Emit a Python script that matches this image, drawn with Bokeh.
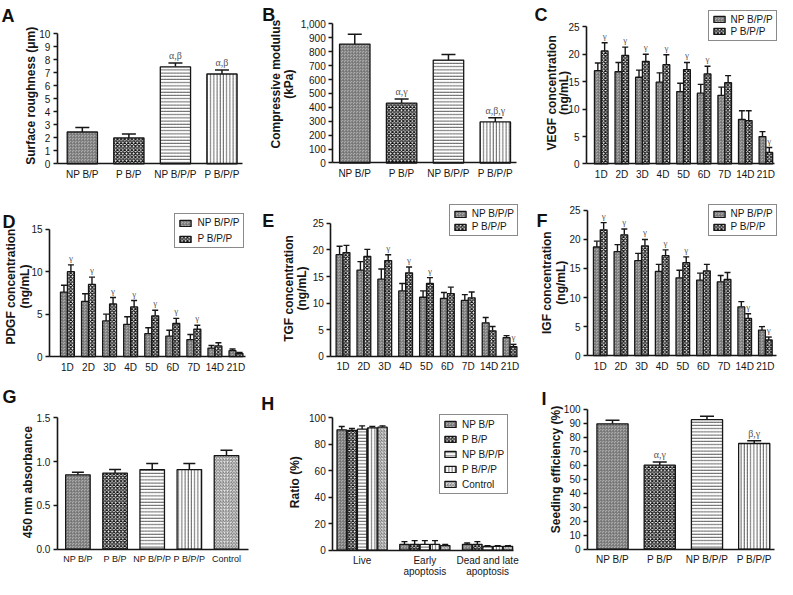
import math
import numpy as np
from bokeh.plotting import figure
from bokeh.layouts import row, column
from bokeh.models import (ColumnDataSource, Whisker, TeeHead, Label, LabelSet, Legend,
                          LegendItem, FixedTicker, NumeralTickFormatter, Range1d)
from bokeh.embed import file_html
from bokeh.resources import INLINE
from bokeh.core.properties import value

# ---------------- data ----------------
groups4 = ["NP B/P", "P B/P", "NP B/P/P", "P B/P/P"]
groups5 = ["NP B/P", "P B/P", "NP B/P/P", "P B/P/P", "Control"]
days = ["1D", "2D", "3D", "4D", "5D", "6D", "7D", "14D", "21D"]
series2 = ["NP B/P/P", "P B/P/P"]

rough_mean = [2.45, 2.0, 7.45, 6.9]
rough_sem = [0.35, 0.3, 0.3, 0.3]
rough_sig = ["", "", "α,β", "α,β"]

modulus_mean = [855, 430, 740, 295]
modulus_sem = [70, 30, 40, 30]
modulus_sig = ["", "α,γ", "", "α,β,γ"]

vegf_np = [17.0, 16.8, 15.8, 14.9, 13.2, 12.9, 12.5, 8.1, 5.0]
vegf_np_sem = [1.4, 1.7, 1.3, 1.7, 1.5, 1.6, 1.5, 1.6, 0.9]
vegf_p = [20.6, 19.8, 18.7, 18.1, 17.2, 16.4, 14.8, 7.9, 2.1]
vegf_p_sem = [1.5, 1.5, 1.3, 1.8, 1.3, 1.4, 1.3, 1.8, 0.9]
vegf_sig = ["γ", "γ", "γ", "γ", "γ", "γ", "", "", "γ"]

pdgf_np = [7.6, 6.5, 4.2, 3.8, 2.7, 2.4, 2.0, 1.0, 0.7]
pdgf_np_sem = [0.8, 0.9, 0.8, 0.9, 0.7, 0.7, 0.6, 0.3, 0.2]
pdgf_p = [10.0, 8.5, 6.2, 5.85, 4.8, 3.9, 3.24, 1.26, 0.38]
pdgf_p_sem = [0.8, 0.85, 0.75, 0.75, 0.65, 0.6, 0.45, 0.38, 0.12]
pdgf_sig = ["γ", "γ", "γ", "γ", "γ", "γ", "γ", "", ""]

tgf_np = [19.1, 16.2, 14.5, 12.3, 11.1, 10.9, 10.5, 6.3, 3.5]
tgf_np_sem = [1.6, 1.6, 1.9, 1.4, 1.2, 1.1, 1.1, 1.0, 0.4]
tgf_p = [19.5, 18.8, 18.0, 15.7, 13.7, 11.8, 11.0, 4.8, 1.8]
tgf_p_sem = [1.35, 1.3, 1.1, 1.1, 1.1, 1.2, 1.1, 0.8, 0.45]
tgf_sig = ["", "", "γ", "γ", "γ", "", "", "", "γ"]

igf_np = [18.7, 17.9, 16.35, 14.5, 13.4, 13.0, 12.7, 8.4, 4.4]
igf_np_sem = [1.0, 1.2, 1.25, 1.2, 1.3, 1.2, 1.1, 0.9, 0.6]
igf_p = [21.65, 20.8, 18.9, 17.2, 16.0, 14.6, 13.1, 6.4, 2.7]
igf_p_sem = [1.25, 1.0, 1.1, 1.0, 1.0, 1.1, 1.2, 0.8, 0.5]
igf_sig = ["γ", "γ", "γ", "γ", "γ", "", "", "γ", "γ"]

absorb_mean = [0.85, 0.87, 0.91, 0.91, 1.07]
absorb_sem = [0.03, 0.04, 0.07, 0.07, 0.06]

apop_cats = ["Live", "Early\napoptosis", "Dead and late\napoptosis"]
apop_np_bp = [91.0, 4.5, 4.5]
apop_np_bp_sem = [2.5, 2.0, 1.0]
apop_p_bp = [90.5, 4.5, 4.5]
apop_p_bp_sem = [1.5, 2.8, 2.0]
apop_np_bpp = [91.5, 4.5, 3.0]
apop_np_bpp_sem = [2.5, 2.8, 0.5]
apop_p_bpp = [92.5, 4.5, 3.0]
apop_p_bpp_sem = [1.0, 2.8, 0.5]
apop_ctrl = [93.0, 3.5, 3.0]
apop_ctrl_sem = [1.0, 0.8, 0.5]

seed_mean = [89.5, 60.0, 92.5, 75.5]
seed_sem = [2.5, 2.2, 2.5, 2.0]
seed_sig = ["", "α,γ", "", "β,γ"]

# ---------------- styling / layout ----------------
SX, SY = 0.98, 0.973
COLS = [0, 257, 524, 777]
ROWS = [0, 195, 378, 579]
FONT = "Liberation Sans"
INK = "#161616"

STYLES = {
    "gray": dict(fill_color="#ababab", hatch_pattern="criss_cross", hatch_color="#707070",
                 hatch_scale=3, hatch_weight=0.6),
    "check": dict(fill_color="white", hatch_pattern="diagonal_cross", hatch_color="#111111",
                  hatch_scale=3.6, hatch_weight=1.15),
    "hline": dict(fill_color="white", hatch_pattern="horizontal_line", hatch_color="#333333",
                  hatch_scale=3.2, hatch_weight=0.8),
    "vline": dict(fill_color="white", hatch_pattern="vertical_line", hatch_color="#333333",
                  hatch_scale=3.2, hatch_weight=0.8),
    "diag": dict(fill_color="#ececec", hatch_pattern="right_diagonal_line", hatch_color="#555555",
                 hatch_scale=3.2, hatch_weight=0.8),
}
style5 = ["gray", "check", "hline", "vline", "diag"]


def make_panel(col, rw, ax_x, ax_y, x_end, y_top, ymax, first, spacing, yticks, ticklabels,
               xfont="10px"):
    W = COLS[col + 1] - COLS[col]
    H = ROWS[rw + 1] - ROWS[rw]
    Lp = SX * ax_x - COLS[col]
    Bp = SY * ax_y - ROWS[rw]
    Tp = SY * y_top - ROWS[rw]
    kx = SX * spacing
    ky = (Bp - Tp) / ymax
    ua = -(first - ax_x) / spacing
    ue = (x_end - first) / spacing
    p = figure(width=W, height=H,
               x_range=Range1d(ua - Lp / kx, ua + (W - Lp) / kx),
               y_range=Range1d(-(H - Bp) / ky, Bp / ky),
               output_backend="svg", toolbar_location=None, title=None, min_border=0)
    p.xgrid.visible = False
    p.ygrid.visible = False
    p.outline_line_color = None
    p.background_fill_color = "white"
    p.border_fill_color = "white"
    xa, ya = p.xaxis[0], p.yaxis[0]
    for ax in (xa, ya):
        ax.axis_line_color = INK
        ax.axis_line_width = 1.6
        ax.major_tick_line_color = INK
        ax.major_tick_line_width = 1.4
        ax.minor_tick_line_color = None
        ax.major_label_text_font = FONT
        ax.major_label_text_color = INK
        ax.major_label_text_font_size = "10px"
    xa.fixed_location = 0
    ya.fixed_location = ua
    xa.bounds = (ua, ue)
    ya.bounds = (0, ymax)
    ya.ticker = FixedTicker(ticks=list(yticks))
    ya.major_tick_out = 4
    ya.major_tick_in = 0
    ya.major_label_standoff = 3
    xa.ticker = FixedTicker(ticks=list(range(len(ticklabels))))
    xa.major_label_overrides = {i: t for i, t in enumerate(ticklabels)}
    xa.major_tick_out = 0
    xa.major_tick_in = 0
    xa.major_label_standoff = 5
    xa.major_label_text_font_size = xfont
    xa.major_label_text_line_height = 1.0
    return p, dict(col=col, row=rw, H=H)


def scr(g, xr, yr):
    return SX * xr - COLS[g["col"]], g["H"] - (SY * yr - ROWS[g["row"]])


def add_letter(p, g, text, xr, yr):
    x, y = scr(g, xr, yr)
    p.add_layout(Label(x=x, y=y, x_units="screen", y_units="screen", text=text,
                       text_font=FONT, text_font_size="18px", text_font_style="bold",
                       text_color="#111111", text_baseline="alphabetic", text_align="left"))


def add_ylabel(p, g, lines, xrs, yr):
    for t, xr in zip(lines, xrs):
        x, y = scr(g, xr, yr)
        p.add_layout(Label(x=x, y=y, x_units="screen", y_units="screen", text=t,
                           angle=math.pi / 2, text_align="center", text_baseline="middle",
                           text_font=FONT, text_font_size="12px", text_font_style="bold",
                           text_color=INK))


def add_bars(p, xs, tops, style, width):
    src = ColumnDataSource(dict(x=list(xs), top=list(tops)))
    return p.vbar(x="x", top="top", width=width, bottom=0, source=src,
                  line_color=INK, line_width=1.3, **STYLES[style])


def add_err(p, xs, tops, sems, cap, lw=1.5):
    src = ColumnDataSource(dict(x=list(xs), top=list(tops),
                                up=[t + s for t, s in zip(tops, sems)]))
    p.add_layout(Whisker(source=src, base="x", lower="top", upper="up", dimension="height",
                         line_width=lw, line_color=INK,
                         upper_head=TeeHead(size=cap, line_width=lw, line_color=INK),
                         lower_head=None))


def add_marks(p, xs, tops, sems, texts, size="9px"):
    xx, yy, tt = [], [], []
    for x, t, s, m in zip(xs, tops, sems, texts):
        if m:
            xx.append(x); yy.append(t + s); tt.append(m)
    src = ColumnDataSource(dict(x=xx, y=yy, t=tt))
    p.add_layout(LabelSet(x="x", y="y", text="t", source=src, y_offset=2,
                          text_align="center", text_baseline="bottom",
                          text_font=value("Liberation Serif"), text_font_size=value(size),
                          text_color="#555555"))


def add_legend(p, g, items, xr, ybr, spacing=1, pad=3, lh=11):
    x, y = scr(g, xr, ybr)
    lg = Legend(items=[LegendItem(label=t, renderers=[r]) for t, r in items],
                location=(x, y), border_line_color=INK, border_line_width=1,
                background_fill_color="white", background_fill_alpha=1.0,
                padding=pad, spacing=spacing, margin=0, glyph_width=14, glyph_height=8,
                label_standoff=5, label_text_font=FONT, label_text_font_size="10px",
                label_text_color=INK, label_height=lh, label_width=10)
    p.add_layout(lg)


def simple_bars(p, means, sems, styles, width, cap):
    xs = list(range(len(means)))
    for i, (m, st) in enumerate(zip(means, styles)):
        add_bars(p, [i], [m], st, width)
    add_err(p, xs, means, sems, cap)
    return xs


def paired_bars(p, g, np_v, np_s, p_v, p_s, sig, cap, leg_x, leg_y, leg_sp):
    w = 0.33
    x = np.arange(len(np_v))
    r1 = add_bars(p, x - w / 2, np_v, "gray", w)
    r2 = add_bars(p, x + w / 2, p_v, "check", w)
    add_err(p, x - w / 2, np_v, np_s, cap, lw=1.4)
    add_err(p, x + w / 2, p_v, p_s, cap, lw=1.4)
    add_marks(p, x + w / 2, p_v, p_s, sig, size="9px")
    add_legend(p, g, [(series2[0], r1), (series2[1], r2)], leg_x, leg_y, spacing=leg_sp)


# ---- A ----
pA, gA = make_panel(0, 0, 58, 168, 247, 34, 10, 83.5, 47.5, range(0, 11), groups4)
xsA = simple_bars(pA, rough_mean, rough_sem, style5[:4], 0.65, 14)
add_marks(pA, xsA, rough_mean, rough_sem, rough_sig, size="10px")
add_letter(pA, gA, "A", 1, 16)
add_ylabel(pA, gA, ["Surface roughness (μm)"], [31], 98)

# ---- B ----
pB, gB = make_panel(1, 0, 339, 167, 527, 24, 1000, 361.5, 47.8, range(0, 1001, 100), groups4)
pB.yaxis[0].formatter = NumeralTickFormatter(format="0,0")
xsB = simple_bars(pB, modulus_mean, modulus_sem, style5[:4], 0.65, 14)
add_marks(pB, xsB, modulus_mean, modulus_sem, modulus_sig, size="10px")
add_letter(pB, gB, "B", 267, 15)
add_ylabel(pB, gB, ["Compressive modulus", "(kPa)"], [281, 294], 86)

# ---- C ----
pC, gC = make_panel(2, 0, 598, 168, 790, 27, 25, 613, 21, range(0, 26, 5), days)
paired_bars(pC, gC, vegf_np, vegf_np_sem, vegf_p, vegf_p_sem, vegf_sig, 6, 722, 42, 1)
add_letter(pC, gC, "C", 545, 15)
add_ylabel(pC, gC, ["VEGF concentration", "(ng/mL)"], [563, 575], 95)

# ---- D ----
pD, gD = make_panel(0, 1, 50, 366, 250, 235, 15, 68.3, 21.5, range(0, 16, 5), days)
paired_bars(pD, gD, pdgf_np, pdgf_np_sem, pdgf_p, pdgf_p_sem, pdgf_sig, 6, 178, 255, 5)
add_letter(pD, gD, "D", 2, 228)
add_ylabel(pD, gD, ["PDGF concentration", "(ng/mL)"], [11, 25], 294)

# ---- E ----
pE, gE = make_panel(1, 1, 337, 365.7, 528, 229, 25, 349.5, 21.3, range(0, 26, 5), days)
paired_bars(pE, gE, tgf_np, tgf_np_sem, tgf_p, tgf_p_sem, tgf_sig, 6, 458, 243, 2)
add_letter(pE, gE, "E", 267, 227)
add_ylabel(pE, gE, ["TGF concentration", "(ng/mL)"], [294, 307.5], 296)

# ---- F ----
pF, gF = make_panel(2, 1, 599, 365, 792, 215.7, 25, 612, 21.06, range(0, 26, 5), days)
paired_bars(pF, gF, igf_np, igf_np_sem, igf_p, igf_p_sem, igf_sig, 6, 722, 243, 2)
add_letter(pF, gF, "F", 547, 227)
add_ylabel(pF, gF, ["IGF concentration", "(ng/mL)"], [557.5, 572], 290)

# ---- G ----
pG, gG = make_panel(0, 2, 58, 564, 253, 429, 1.5, 79, 37.9, [0, 0.5, 1.0, 1.5], groups5,
                    xfont="9px")
pG.yaxis[0].formatter = NumeralTickFormatter(format="0.0")
simple_bars(pG, absorb_mean, absorb_sem, style5, 0.66, 12)
add_letter(pG, gG, "G", 2, 408)
add_ylabel(pG, gG, ["450 nm absorbance"], [28], 495)

# ---- H ----
pH, gH = make_panel(1, 2, 339, 565, 523, 429, 100, 369, 64, range(0, 101, 20), apop_cats)
h_series = [(groups5[0], apop_np_bp, apop_np_bp_sem), (groups5[1], apop_p_bp, apop_p_bp_sem),
            (groups5[2], apop_np_bpp, apop_np_bpp_sem), (groups5[3], apop_p_bpp, apop_p_bpp_sem),
            (groups5[4], apop_ctrl, apop_ctrl_sem)]
pitch = 0.1625
xh = np.arange(len(apop_cats))
h_items = []
for k, (name, vals, sems) in enumerate(h_series):
    xk = xh + (k - 2) * pitch
    r = add_bars(pH, xk, vals, style5[k], 0.15)
    add_err(pH, xk, vals, sems, 6, lw=1.4)
    h_items.append((name, r))
add_legend(pH, gH, h_items, 448, 508, spacing=3, lh=12)
add_letter(pH, gH, "H", 266, 415)
add_ylabel(pH, gH, ["Ratio (%)"], [301], 495)

# ---- I ----
pI, gI = make_panel(2, 2, 599, 564, 790, 420, 100, 624.5, 48.2, range(0, 101, 10), groups4)
xsI = simple_bars(pI, seed_mean, seed_sem, style5[:4], 0.66, 14)
add_marks(pI, xsI, seed_mean, seed_sem, seed_sig, size="10px")
add_letter(pI, gI, "I", 552, 410)
add_ylabel(pI, gI, ["Seeding efficiency (%)"], [566.5], 482)

layout = column(row(pA, pB, pC), row(pD, pE, pF), row(pG, pH, pI))
open("out.html", "w").write(file_html(layout, INLINE))
